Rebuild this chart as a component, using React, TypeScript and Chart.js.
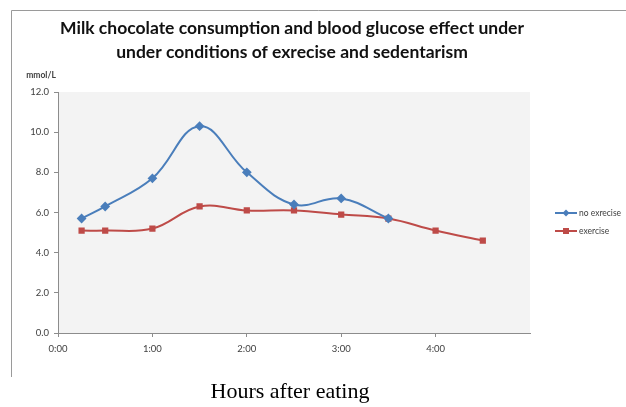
import React, { useEffect, useRef } from "react";
import { Chart, registerables } from "chart.js";

Chart.register(...registerables);

const titleLines = [
  "Milk chocolate consumption and blood glucose effect under",
  "under conditions of exrecise and sedentarism",
];
const yUnit = "mmol/L";
const xCaption = "Hours after eating";
const hours = [0.25, 0.5, 1.0, 1.5, 2.0, 2.5, 3.0, 3.5, 4.0, 4.5];
const noExerciseName = "no exrecise";
const exerciseName = "exercise";
const noExercise = [5.7, 6.3, 7.7, 10.3, 8.0, 6.4, 6.7, 5.7];
const exercise = [5.1, 5.1, 5.2, 6.3, 6.1, 6.1, 5.9, 5.7, 5.1, 4.6];
const xTickHours = [0, 1, 2, 3, 4];
const yMin = 0;
const yMax = 12;
const yStep = 2;

const BLUE = "#4a7ebb";
const RED = "#be4b48";
const AXIS = "#8c8c8c";
const TICKFONT = "Lato, 'Open Sans', sans-serif";

const decorPlugin = {
  id: "decor",
  beforeDraw(chart: any) {
    const { ctx, chartArea } = chart;
    ctx.save();
    ctx.fillStyle = "#f3f3f3";
    ctx.fillRect(chartArea.left, chartArea.top, chartArea.right - chartArea.left, chartArea.bottom - chartArea.top);
    ctx.restore();
  },
  afterDraw(chart: any) {
    const { ctx } = chart;
    ctx.save();
    // frame
    ctx.strokeStyle = "#9a9a9a";
    ctx.lineWidth = 1;
    ctx.beginPath();
    ctx.moveTo(11.5, 377);
    ctx.lineTo(11.5, 10.5);
    ctx.lineTo(626, 10.5);
    ctx.stroke();
    // title
    ctx.fillStyle = "#111";
    ctx.textAlign = "center";
    ctx.textBaseline = "middle";
    ctx.font = "bold 17.5px Lato, 'Open Sans', sans-serif";
    ctx.fillText(titleLines[0], 292, 28);
    ctx.fillText(titleLines[1], 292, 52);
    // unit
    ctx.font = "bold 8.5px " + TICKFONT;
    ctx.fillStyle = "#404040";
    ctx.fillText(yUnit, 41, 75);
    // legend
    const items = [
      { name: noExerciseName, color: BLUE, style: "rectRot" },
      { name: exerciseName, color: RED, style: "rect" },
    ];
    items.forEach((it, i) => {
      const y = 213 + i * 18;
      ctx.strokeStyle = it.color;
      ctx.lineWidth = 2;
      ctx.beginPath();
      ctx.moveTo(555, y);
      ctx.lineTo(577, y);
      ctx.stroke();
      ctx.fillStyle = it.color;
      if (it.style === "rectRot") {
        ctx.beginPath();
        ctx.moveTo(566, y - 3.5);
        ctx.lineTo(569.5, y);
        ctx.lineTo(566, y + 3.5);
        ctx.lineTo(562.5, y);
        ctx.closePath();
        ctx.fill();
      } else {
        ctx.fillRect(563, y - 3, 6, 6);
      }
      ctx.fillStyle = "#404040";
      ctx.textAlign = "left";
      ctx.font = "8.5px " + TICKFONT;
      ctx.fillText(it.name, 579, y + 0.5);
    });
    ctx.restore();
  },
};

export default function App() {
  const ref = useRef<HTMLCanvasElement>(null);
  useEffect(() => {
    if (!ref.current) return;
    const chart = new Chart(ref.current, {
      type: "line",
      data: {
        datasets: [
          {
            label: noExerciseName,
            data: noExercise.map((v, i) => ({ x: hours[i], y: v })),
            borderColor: BLUE,
            backgroundColor: BLUE,
            borderWidth: 2,
            pointStyle: "rectRot",
            pointRadius: 3.5,
            tension: 0.4,
          },
          {
            label: exerciseName,
            data: exercise.map((v, i) => ({ x: hours[i], y: v })),
            borderColor: RED,
            backgroundColor: RED,
            borderWidth: 2,
            pointStyle: "rect",
            pointRadius: 3,
            tension: 0.4,
          },
        ],
      },
      options: {
        animation: false,
        responsive: false,
        devicePixelRatio: 1,
        layout: { padding: { left: 0, top: 92, right: 96, bottom: 0 } },
        plugins: {
          legend: { display: false },
          title: { display: false },
          tooltip: { enabled: false },
        },
        scales: {
          x: {
            type: "linear",
            min: 0,
            max: 5,
            afterBuildTicks: (scale: any) => {
              scale.ticks = xTickHours.map((h) => ({ value: h }));
            },
            afterFit: (scale: any) => {
              scale.height = 74;
            },
            ticks: {
              callback: (v: any) => `${v}:00`,
              font: { family: TICKFONT, size: 9.5 },
              color: "#404040",
              padding: 6,
              maxRotation: 0,
            },
            grid: { display: true, drawOnChartArea: false, drawTicks: true, tickLength: 4, color: AXIS },
            border: { display: true, color: AXIS, width: 1 },
          },
          y: {
            min: yMin,
            max: yMax,
            afterFit: (scale: any) => {
              scale.width = 58;
            },
            ticks: {
              stepSize: yStep,
              callback: (v: any) => Number(v).toFixed(1),
              font: { family: TICKFONT, size: 9.5 },
              color: "#404040",
              padding: 5,
            },
            grid: { display: true, drawOnChartArea: false, drawTicks: true, tickLength: 4, color: AXIS },
            border: { display: true, color: AXIS, width: 1 },
          },
        },
      },
      plugins: [decorPlugin],
    } as any);
    return () => chart.destroy();
  }, []);
  return (
    <div style={{ position: "fixed", left: 0, top: 0, width: 626, height: 407, background: "#fff" }}>
      <canvas ref={ref} width={626} height={407} style={{ position: "absolute", left: 0, top: 0 }} />
      <div
        style={{
          position: "absolute",
          left: 0,
          width: 580,
          top: 377,
          textAlign: "center",
          fontFamily: "'Liberation Serif', 'Times New Roman', serif",
          fontSize: 22,
          lineHeight: "28px",
          color: "#000",
        }}
      >
        {xCaption}
      </div>
    </div>
  );
}
